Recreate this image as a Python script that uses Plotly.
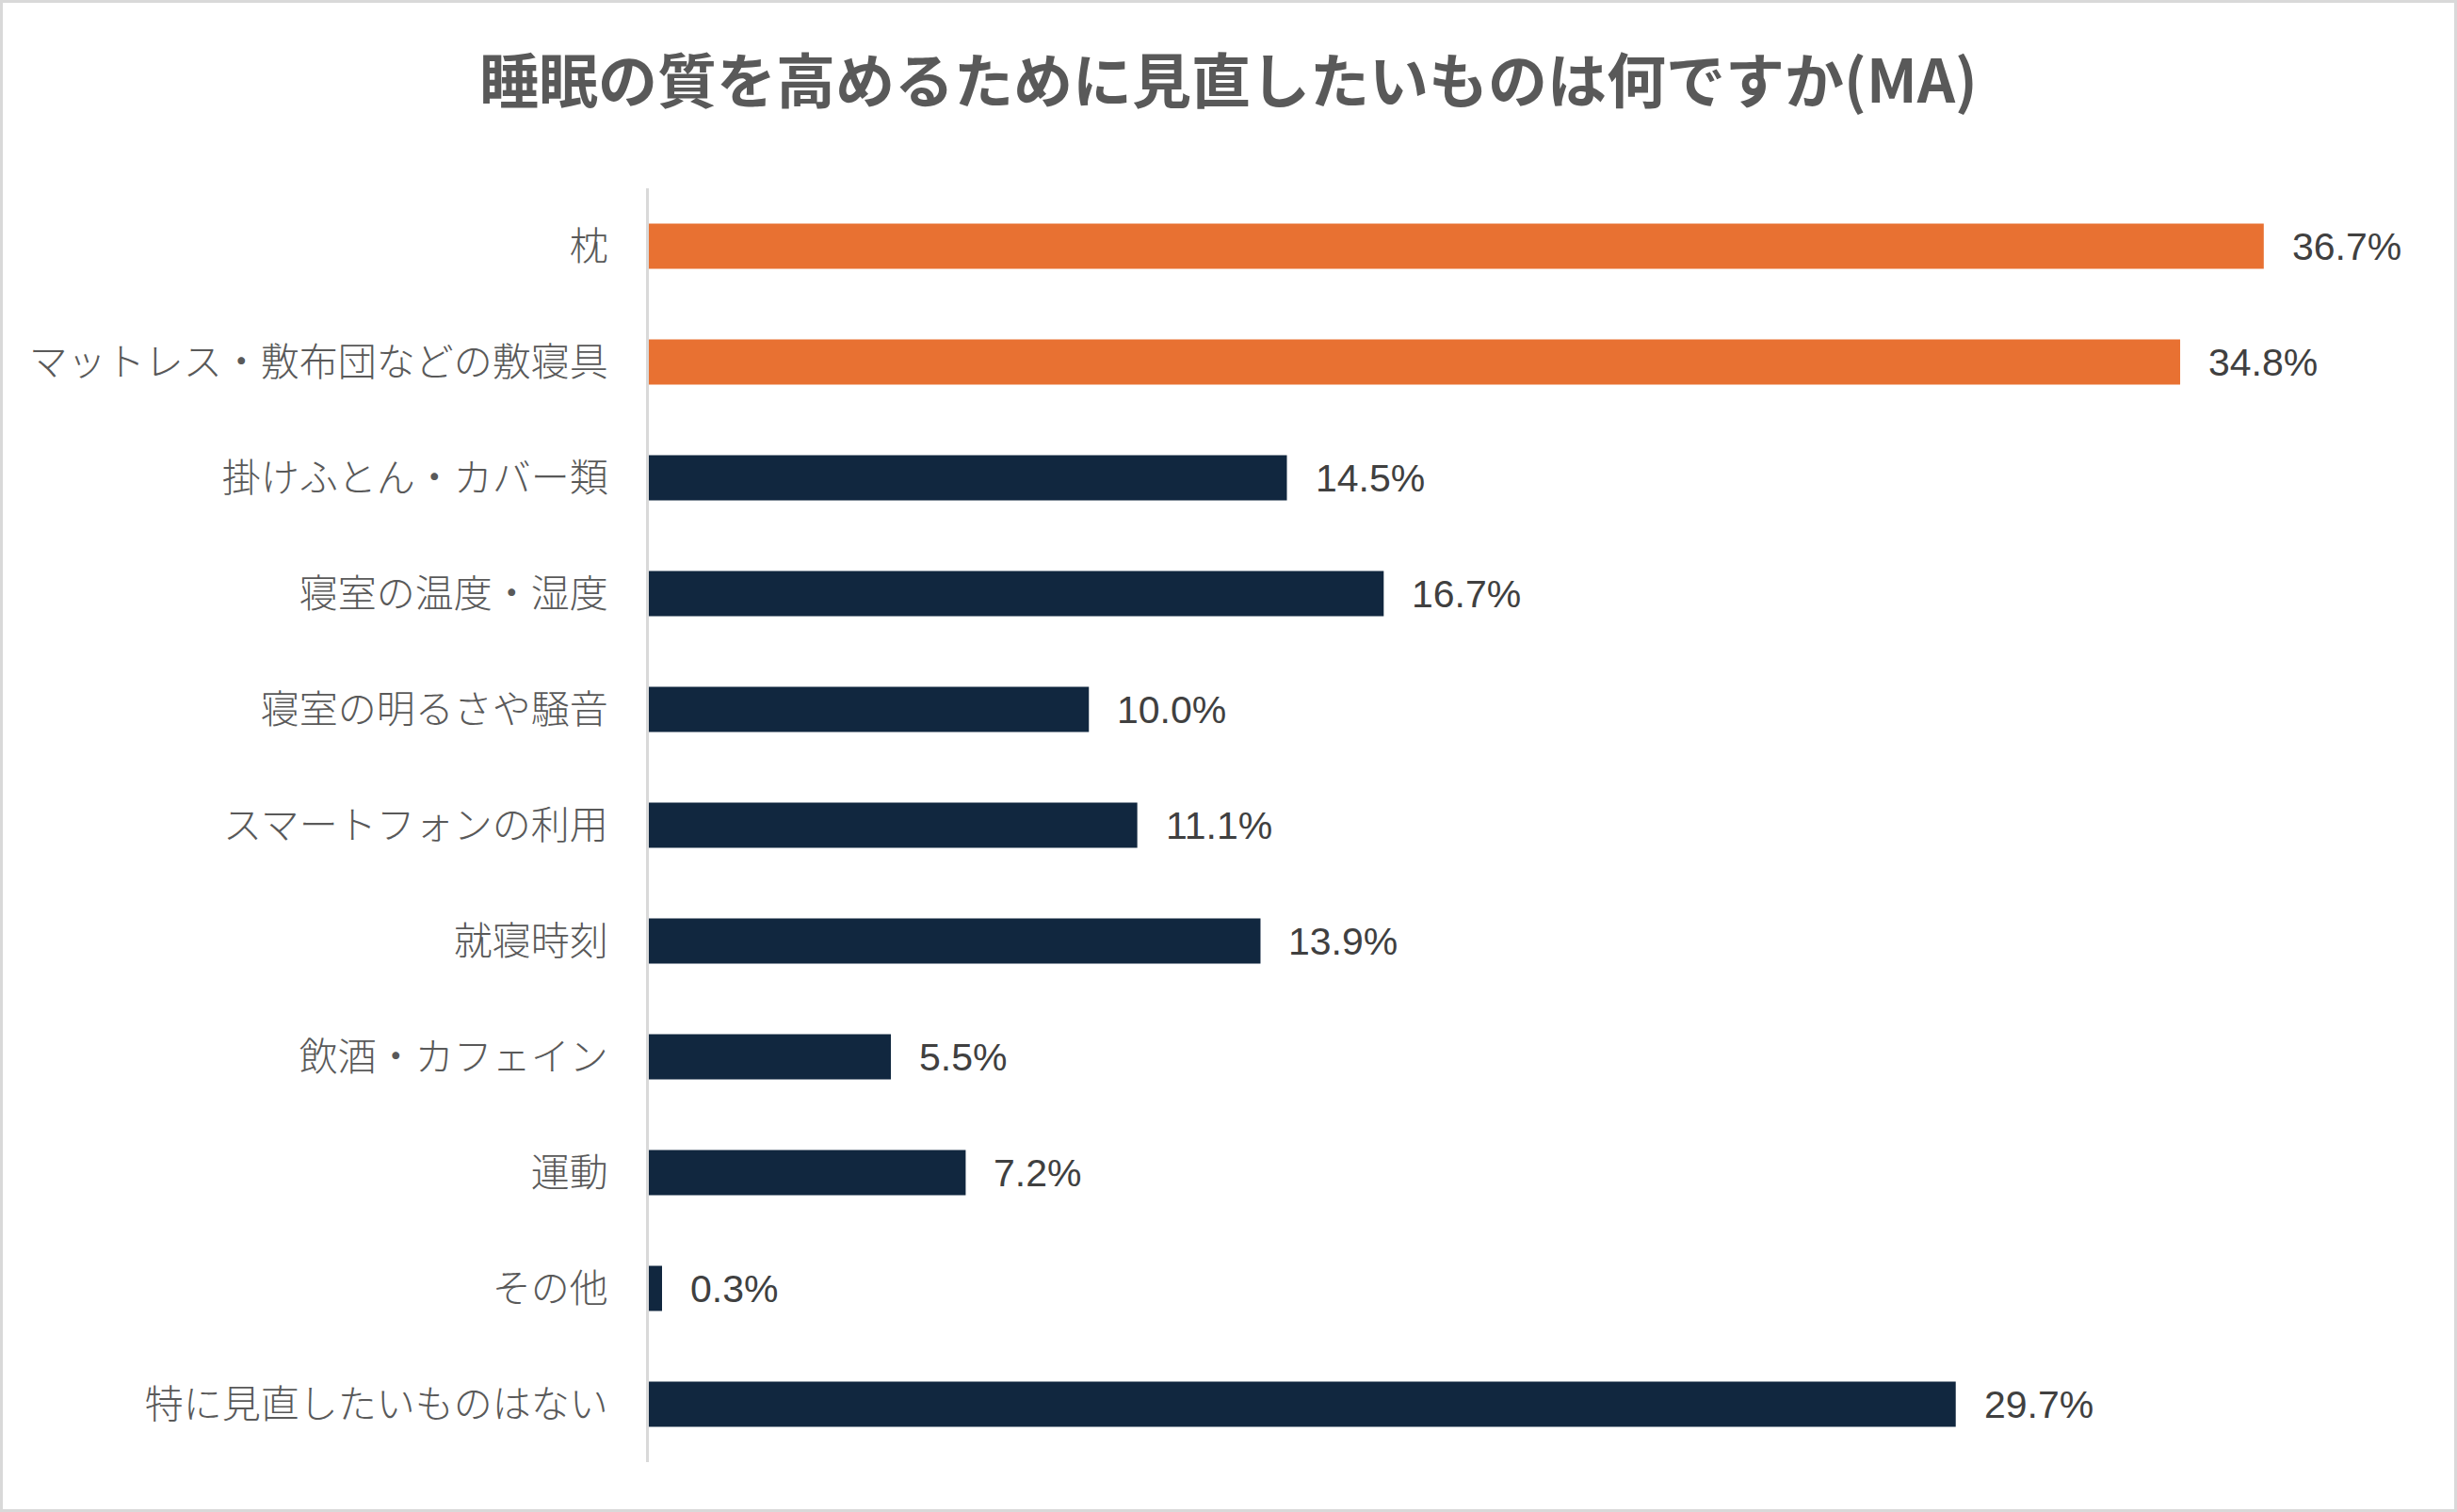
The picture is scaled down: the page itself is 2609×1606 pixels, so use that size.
import plotly.graph_objects as go

# ---- data ----
categories = [
    "枕",
    "マットレス・敷布団などの敷寝具",
    "掛けふとん・カバー類",
    "寝室の温度・湿度",
    "寝室の明るさや騒音",
    "スマートフォンの利用",
    "就寝時刻",
    "飲酒・カフェイン",
    "運動",
    "その他",
    "特に見直したいものはない",
]
values = [36.7, 34.8, 14.5, 16.7, 10.0, 11.1, 13.9, 5.5, 7.2, 0.3, 29.7]
highlight = ["枕", "マットレス・敷布団などの敷寝具"]

title_text = "睡眠の質を高めるために見直したいものは何ですか(MA)"

ORANGE = "#E87132"
NAVY = "#11273F"

W, H = 2609, 1606
ml, mr, mt, mb = 689, 51, 200, 53

colors = [ORANGE if c in highlight else NAVY for c in categories]

fig = go.Figure()
fig.add_trace(go.Bar(
    x=values,
    y=categories,
    orientation="h",
    marker=dict(color=colors, line=dict(width=0)),
    width=0.39,
    hoverinfo="skip",
))

# ---- value labels ----
for c, v in zip(categories, values):
    fig.add_annotation(
        x=v, y=c, xref="x", yref="y",
        text=f"{v:.1f}%",
        showarrow=False,
        xanchor="left", yanchor="middle",
        xshift=28,
        font=dict(family="Liberation Sans, Arial", size=41, color="#404040"),
    )

# ---- outer border ----
pw = W - ml - mr
ph = H - mt - mb
fig.add_shape(
    type="rect", xref="paper", yref="paper",
    x0=-(ml - 1.5) / pw, x1=1 + (mr - 1.5) / pw,
    y0=-(mb - 1.5) / ph, y1=1 + (mt - 1.5) / ph,
    line=dict(color="#d9d9d9", width=3),
    fillcolor="rgba(0,0,0,0)",
)

fig.update_xaxes(
    range=[0, 40], visible=False, showgrid=False, zeroline=False,
)
fig.update_yaxes(
    autorange="reversed",
    showline=True, linecolor="#d9d9d9", linewidth=3,
    showgrid=False, zeroline=False,
    ticks="", ticklabelstandoff=32,
    tickfont=dict(family="Noto Sans CJK JP", size=41, color="#595959", weight=300),
)

fig.update_layout(
    width=W, height=H,
    margin=dict(l=ml, r=mr, t=mt, b=mb),
    plot_bgcolor="white",
    paper_bgcolor="white",
    showlegend=False,
    bargap=0.61,
    title=dict(
        text=f"<b>{title_text}</b>",
        x=0.5, xref="container", xanchor="center",
        y=1 - 87 / H, yanchor="middle",
        font=dict(family="Noto Sans CJK JP", size=63, color="#595959"),
    ),
)

fig.write_html(
    "out.html",
    config={"displayModeBar": False},
    post_script="document.body.style.margin='0';",
)
